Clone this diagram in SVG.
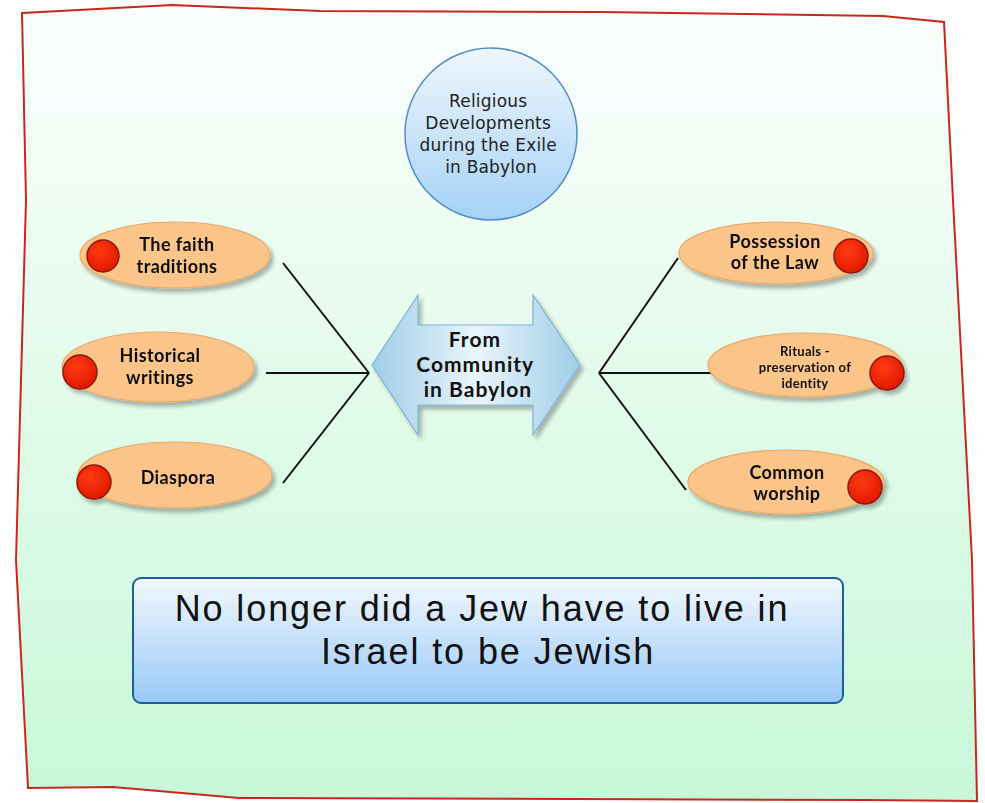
<svg xmlns="http://www.w3.org/2000/svg" width="985" height="803" viewBox="0 0 985 803">
<defs>
<linearGradient id="bg" x1="0" y1="0" x2="0" y2="1">
<stop offset="0" stop-color="#fbfefc"/>
<stop offset="1" stop-color="#c8f8d8"/>
</linearGradient>
<linearGradient id="blueV" x1="0" y1="0" x2="0" y2="1">
<stop offset="0" stop-color="#eef6fd"/>
<stop offset="1" stop-color="#a6d2f6"/>
</linearGradient>
<linearGradient id="boxG" x1="0" y1="0" x2="0" y2="1">
<stop offset="0" stop-color="#f3f8ff"/>
<stop offset="1" stop-color="#98c9f6"/>
</linearGradient>
<linearGradient id="arrowG" x1="0" y1="0" x2="1" y2="0">
<stop offset="0" stop-color="#9fcde8"/>
<stop offset="0.5" stop-color="#eaf5fb"/>
<stop offset="1" stop-color="#9fcde8"/>
</linearGradient>
<radialGradient id="redG" cx="0.4" cy="0.35" r="0.7">
<stop offset="0" stop-color="#ff3a10"/>
<stop offset="1" stop-color="#e01800"/>
</radialGradient>
<filter id="sh" x="-20%" y="-20%" width="140%" height="150%">
<feGaussianBlur in="SourceAlpha" stdDeviation="2"/>
<feOffset dx="3" dy="4" result="o"/>
<feComponentTransfer><feFuncA type="linear" slope="0.3"/></feComponentTransfer>
<feMerge><feMergeNode/><feMergeNode in="SourceGraphic"/></feMerge>
</filter>
</defs>
<style>
.oval{fill:#fbc58a;stroke:#e8a86a;stroke-width:1.2}
.dot{fill:url(#redG);stroke:#8c1a08;stroke-width:1.5}
.lbl{font-family:Lato,"Liberation Sans",sans-serif;font-weight:bold;font-size:18px;letter-spacing:0.4px;fill:#111;text-anchor:middle}
.sm{font-size:13px;letter-spacing:0.3px}
.big{font-size:21px;letter-spacing:1px}
.conn{stroke:#111;stroke-width:2;fill:none}
</style>
<path id="frame" d="M22,13 L172,5 L320,11 L600,12 L883,16 L944,22 L953,200 L972,560 L977,801 L868,800 L239,798 L113,787 L28,788 L16,560 L26,200 Z" fill="url(#bg)" stroke="#c8281c" stroke-width="2"/>

<g id="connectors">
<line class="conn" x1="283" y1="263" x2="369" y2="373"/>
<line class="conn" x1="266" y1="373" x2="369" y2="373"/>
<line class="conn" x1="283" y1="483" x2="369" y2="373"/>
<line class="conn" x1="599" y1="373" x2="678" y2="258"/>
<line class="conn" x1="599" y1="373" x2="712" y2="373"/>
<line class="conn" x1="599" y1="373" x2="686" y2="490"/>
</g>

<g id="title">
<circle cx="491" cy="134" r="86" fill="url(#blueV)" stroke="#4f8cc6" stroke-width="1.5"/>
<text font-family="'DejaVu Sans',Verdana,sans-serif" font-size="17" letter-spacing="0.2" fill="#222" text-anchor="middle">
<tspan x="491" y="107">Religious</tspan>
<tspan x="491" y="129">Developments</tspan>
<tspan x="491" y="151">during the Exile</tspan>
<tspan x="491" y="173">in Babylon</tspan>
</text>
</g>

<g id="center-arrow">
<path d="M372,365 L418,295 L418,325 L533,325 L533,295 L580,365 L533,435 L533,405 L418,405 L418,435 Z" fill="url(#arrowG)" stroke="#7fb3d6" stroke-width="1.2" filter="url(#sh)"/>
<text class="lbl big">
<tspan x="478" y="347">From</tspan>
<tspan x="478" y="372">Community</tspan>
<tspan x="478" y="397">in Babylon</tspan>
</text>
</g>

<g id="faith" filter="url(#sh)">
<ellipse class="oval" cx="175" cy="255" rx="95" ry="33"/>
<circle class="dot" cx="103" cy="256" r="16"/>
<text class="lbl"><tspan x="177" y="251">The faith</tspan><tspan x="177" y="273">traditions</tspan></text>
</g>
<g id="historical" filter="url(#sh)">
<ellipse class="oval" cx="158" cy="367" rx="96" ry="35"/>
<circle class="dot" cx="80" cy="372" r="17"/>
<text class="lbl"><tspan x="160" y="362">Historical</tspan><tspan x="160" y="384">writings</tspan></text>
</g>
<g id="diaspora" filter="url(#sh)">
<ellipse class="oval" cx="175" cy="475" rx="97" ry="33"/>
<circle class="dot" cx="94" cy="482" r="17"/>
<text class="lbl"><tspan x="178" y="484">Diaspora</tspan></text>
</g>
<g id="law" filter="url(#sh)">
<ellipse class="oval" cx="776" cy="253" rx="97" ry="31"/>
<circle class="dot" cx="851" cy="256" r="17"/>
<text class="lbl"><tspan x="775" y="248">Possession</tspan><tspan x="775" y="269">of the Law</tspan></text>
</g>
<g id="rituals" filter="url(#sh)">
<ellipse class="oval" cx="805" cy="365" rx="97" ry="32"/>
<circle class="dot" cx="887" cy="373" r="17"/>
<text class="lbl sm"><tspan x="805" y="356">Rituals -</tspan><tspan x="805" y="372">preservation of</tspan><tspan x="805" y="388">identity</tspan></text>
</g>
<g id="worship" filter="url(#sh)">
<ellipse class="oval" cx="786" cy="482" rx="98" ry="32"/>
<circle class="dot" cx="865" cy="487" r="17"/>
<text class="lbl"><tspan x="787" y="479">Common</tspan><tspan x="787" y="500">worship</tspan></text>
</g>

<g id="conclusion">
<rect x="133" y="578" width="710" height="125" rx="8" fill="url(#boxG)" stroke="#1d5d9c" stroke-width="2"/>
<text font-family="'Liberation Sans',Arial,sans-serif" font-size="36" letter-spacing="1.9" fill="#111" text-anchor="middle">
<tspan x="488" y="621">No longer did a Jew have to live in</tspan>
<tspan x="488" y="664">Israel to be Jewish</tspan>
</text>
</g>
</svg>
